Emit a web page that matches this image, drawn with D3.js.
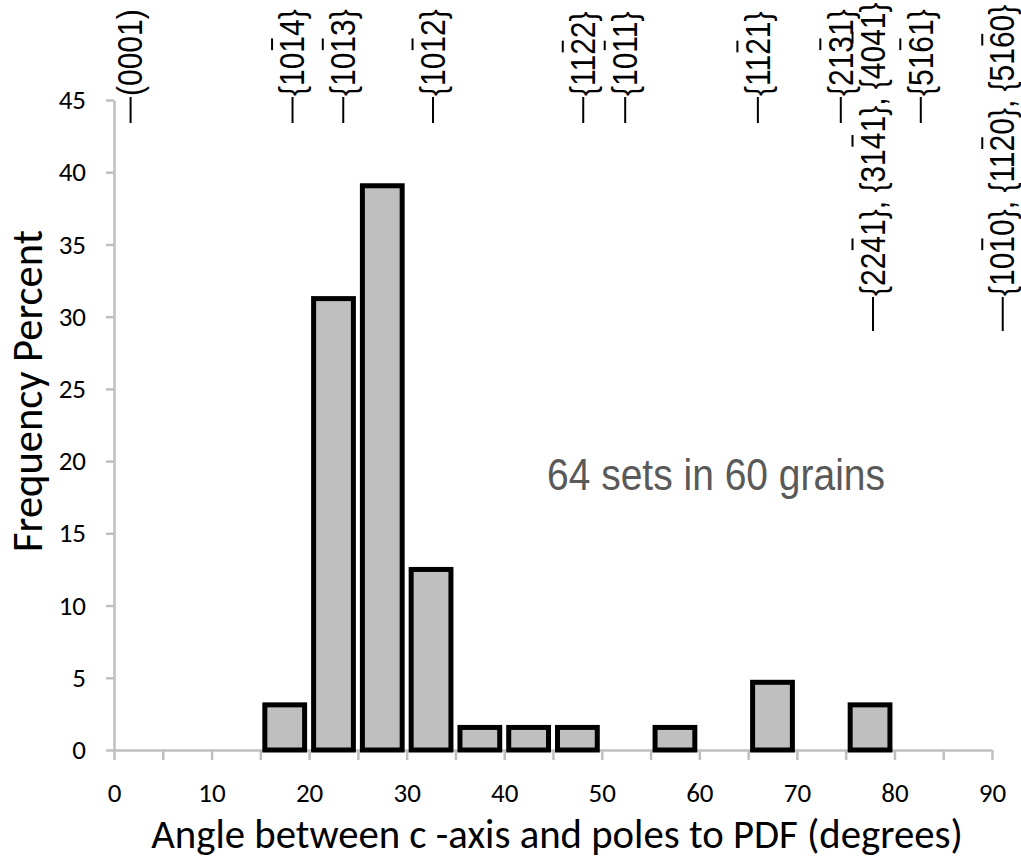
<!DOCTYPE html>
<html>
<head>
<meta charset="utf-8">
<script src="https://cdn.jsdelivr.net/npm/d3@7"></script>
<style>
  body { margin: 0; background: #fff; }
  svg { display: block; }
</style>
</head>
<body>
<div id="chart-container"></div>
<script>
// histogram bins (degrees) and frequency percent (64 sets)
const binStarts = [0, 5, 10, 15, 20, 25, 30, 35, 40, 45, 50, 55, 60, 65, 70, 75, 80, 85];
const binWidth = 5;
const freqPercent = [0, 0, 0, 3.125, 31.25, 39.0625, 12.5, 1.5625, 1.5625, 1.5625,
  0, 1.5625, 0, 4.6875, 0, 3.125, 0, 0];

const yTicks = [0, 5, 10, 15, 20, 25, 30, 35, 40, 45];
const xTickLabels = [0, 10, 20, 30, 40, 50, 60, 70, 80, 90];
const xMinorTicks = [0, 5, 10, 15, 20, 25, 30, 35, 40, 45, 50, 55, 60, 65, 70, 75, 80, 85, 90];

// crystal planes marked along the top ("~" = bar over next digit)
const planeLabels = ['(0001)', '{10~14}', '{10~13}', '{10~12}', '{11~22}', '{10~11}',
  '{11~21}', '{21~31}', '{51~61}', '{22~41}, {31~41}, {40~41}', '{10~10}, {11~20}, {51~60}'];
const planeAngles = [1.7, 18.3, 23.5, 32.7, 48.1, 52.4, 66.0, 74.5, 82.7, 77.8, 91.1];
const planeRow = [0, 0, 0, 0, 0, 0, 0, 0, 0, 1, 1];

const note = '64 sets in 60 grains';
const xTitle = 'Angle between c -axis and poles to PDF (degrees)';
const yTitle = 'Frequency Percent';

const W = 1021;
const H = 860;
const axisFont = 'Carlito, Calibri, Lato, sans-serif';
const arial = '\'Liberation Sans\', Arial, sans-serif';
const grey = '#bfbfbf';

const svg = d3.select('#chart-container')
    .append('svg')
    .attr('width', W)
    .attr('height', H);

const x = d3.scaleLinear().domain([0, 90]).range([114, 992]);
const y = d3.scaleLinear().domain([0, 45]).range([750, 100]);

// y axis
const yAxis = svg.append('g')
    .attr('transform', `translate(${x(0)},0)`)
    .call(d3.axisLeft(y).tickValues(yTicks).tickSize(8).tickPadding(20).tickSizeOuter(0));
yAxis.select('.domain').attr('stroke', grey).attr('stroke-width', 2.5);
yAxis.selectAll('.tick line').attr('stroke', grey).attr('stroke-width', 2.5);
yAxis.selectAll('.tick text')
    .attr('font-family', axisFont)
    .attr('font-size', '27px')
    .attr('fill', '#000');

// x axis
const xAxis = svg.append('g')
    .attr('transform', `translate(0,${y(0)})`)
    .call(d3.axisBottom(x).tickValues(xMinorTicks).tickSize(10).tickSizeOuter(0)
        .tickFormat((d) => xTickLabels.includes(d) ? d : ''));
xAxis.select('.domain').attr('stroke', grey).attr('stroke-width', 2.5);
xAxis.selectAll('.tick line').attr('stroke', grey).attr('stroke-width', 2.5);
xAxis.selectAll('.tick text')
    .attr('y', 33)
    .attr('font-family', axisFont)
    .attr('font-size', '27px')
    .attr('fill', '#000');

// bars
const sw = 5;
svg.append('g')
    .selectAll('rect')
    .data(binStarts.map((b, i) => ({b: b, v: freqPercent[i]})).filter((d) => d.v > 0))
    .join('rect')
    .attr('x', (d) => x(d.b) + 2 + sw / 2)
    .attr('width', (d) => x(d.b + binWidth) - x(d.b) - 4 - sw)
    .attr('y', (d) => y(d.v))
    .attr('height', (d) => y(0) - y(d.v))
    .attr('fill', grey)
    .attr('stroke', '#000')
    .attr('stroke-width', sw);

// plane markers
const rowTop = [97, 297];
const tickLen = [26, 34];
const planeFont = 30;
planeLabels.forEach(function(lab, i) {
  const px = x(planeAngles[i]);
  const top = rowTop[planeRow[i]];
  svg.append('line')
      .attr('x1', px).attr('x2', px)
      .attr('y1', top).attr('y2', top + tickLen[planeRow[i]])
      .attr('stroke', '#000')
      .attr('stroke-width', 2);

  const g = svg.append('g')
      .attr('transform', `translate(${px - 1},${top - 1}) rotate(-90) scale(1,1.18)`);
  const chars = [];
  const bars = [];
  for (const c of lab) {
    if (c === '~') {
      bars.push(chars.length);
    } else {
      chars.push(c);
    }
  }
  const t = g.append('text')
      .attr('x', 0)
      .attr('y', 0)
      .attr('dy', '0.36em')
      .attr('font-family', arial)
      .attr('font-size', planeFont + 'px')
      .attr('fill', '#000')
      .text(chars.join(''));
  const node = t.node();
  bars.forEach(function(k) {
    const ext = node.getExtentOfChar(k);
    g.append('line')
        .attr('x1', ext.x + 2.5).attr('x2', ext.x + ext.width - 2.5)
        .attr('y1', -16.5).attr('y2', -16.5)
        .attr('stroke', '#000')
        .attr('stroke-width', 1.7);
  });
});

// note
svg.append('text')
    .attr('transform', 'translate(716,490) scale(1,1.12)')
    .attr('text-anchor', 'middle')
    .attr('font-family', arial)
    .attr('font-size', '39px')
    .attr('fill', '#595959')
    .text(note);

// axis titles, fitted to the reference widths
function fitText(sel, target) {
  const w = sel.node().getComputedTextLength();
  const fs = parseFloat(sel.attr('font-size'));
  sel.attr('font-size', (fs * target / w) + 'px');
}

const xt = svg.append('text')
    .attr('x', 557)
    .attr('y', 848)
    .attr('text-anchor', 'middle')
    .attr('font-family', axisFont)
    .attr('font-size', '36px')
    .attr('fill', '#000')
    .text(xTitle);
fitText(xt, 812);

const yt = svg.append('text')
    .attr('transform', 'translate(42,391) rotate(-90)')
    .attr('text-anchor', 'middle')
    .attr('font-family', axisFont)
    .attr('font-size', '36px')
    .attr('fill', '#000')
    .text(yTitle);
fitText(yt, 322);
</script>
</body>
</html>
